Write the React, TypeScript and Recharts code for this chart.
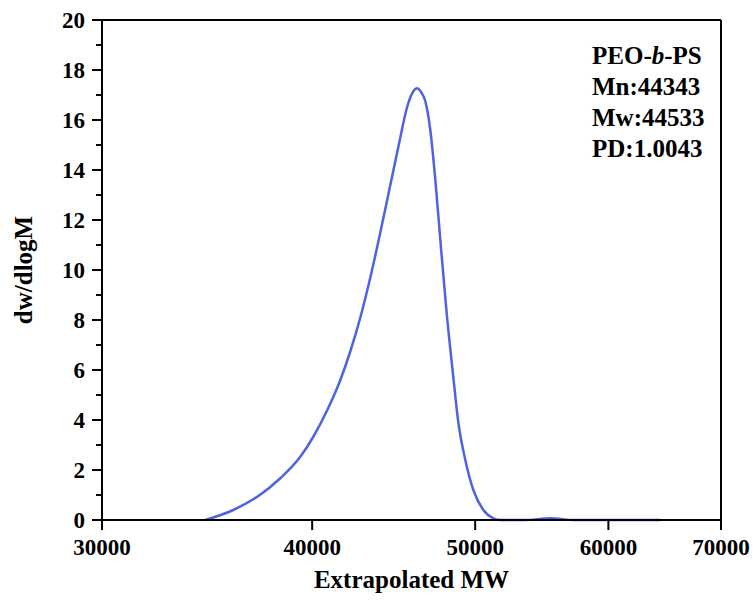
import React from 'react';
import { LineChart, Line, XAxis, YAxis, ReferenceLine, Customized } from 'recharts';

const mwValues = [34557, 35907, 37106, 38293, 39356, 40063, 40838, 41572, 42145, 42726, 43314, 43911, 44516, 45130, 45502, 45815, 46173, 46447, 46701, 47021, 47346, 47670, 48063, 48527, 48860, 49330, 49873, 50561, 51258, 51750, 53500, 55400, 57300, 64400];
const dwValues = [0, 0.4, 0.93, 1.67, 2.53, 3.33, 4.4, 5.6, 6.75, 8.1, 9.7, 11.5, 13.4, 15.3, 16.4, 17.0, 17.27, 17.1, 16.75, 15.6, 13.6, 11.2, 8.43, 5.7, 3.9, 2.4, 1.2, 0.4, 0.07, 0, 0, 0.07, 0, 0];
const xTicks = [30000, 40000, 50000, 60000, 70000];
const yTicks = [0, 1, 2, 3, 4, 5, 6, 7, 8, 9, 10, 11, 12, 13, 14, 15, 16, 17, 18, 19, 20];
const infoLines = ['Mn:44343', 'Mw:44533', 'PD:1.0043'];

const data = mwValues.map((m, i) => ({ mw: m, dw: dwValues[i] }));

const FONT = '"Liberation Serif", "Times New Roman", serif';

const YTick = (props: any) => {
  const { x, y, payload } = props;
  const v = payload.value;
  const major = v % 2 === 0;
  return (
    <g>
      <line x1={x - (major ? 10 : 6)} x2={x} y1={y} y2={y} stroke="#000" strokeWidth={2} />
      {major && (
        <text x={x - 17} y={y} dy="0.35em" textAnchor="end" fontFamily={FONT} fontWeight="bold" fontSize={23} fill="#000">
          {v}
        </text>
      )}
    </g>
  );
};

const XTick = (props: any) => {
  const { x, y, payload } = props;
  return (
    <g>
      <line x1={x} x2={x} y1={y} y2={y + 10} stroke="#000" strokeWidth={2} />
      <text x={x} y={y + 35} textAnchor="middle" fontFamily={FONT} fontWeight="bold" fontSize={23} fill="#000">
        {payload.value}
      </text>
    </g>
  );
};

const Info = () => (
  <g fontFamily={FONT} fontWeight="bold" fontSize={25} fill="#000">
    <text x={592} y={64}>
      PEO-<tspan fontStyle="italic">b</tspan>-PS
    </text>
    {infoLines.map((t, i) => (
      <text key={t} x={592} y={95 + i * 31}>
        {t}
      </text>
    ))}
  </g>
);

export default function App() {
  return (
    <div style={{ position: 'absolute', left: 0, top: 0 }}>
      <LineChart width={753} height={603} data={data} margin={{ top: 20, right: 32, left: 42, bottom: 23 }}>
        <XAxis
          dataKey="mw"
          type="number"
          scale="log"
          domain={[30000, 70000]}
          ticks={xTicks}
          interval={0}
          allowDataOverflow
          tickSize={0}
          tickMargin={0}
          tick={<XTick />}
          axisLine={{ stroke: '#000', strokeWidth: 2 }}
          height={60}
          label={{ value: 'Extrapolated MW', position: 'insideBottom', offset: -8, fontFamily: FONT, fontWeight: 'bold', fontSize: 25, fill: '#000' }}
        />
        <YAxis
          type="number"
          domain={[0, 20]}
          ticks={yTicks}
          interval={0}
          tickSize={0}
          tickMargin={0}
          tick={<YTick />}
          axisLine={{ stroke: '#000', strokeWidth: 2 }}
          width={60}
          label={{ value: 'dw/dlogM', angle: -90, position: 'insideLeft', offset: -19, style: { textAnchor: 'middle' }, fontFamily: FONT, fontWeight: 'bold', fontSize: 25, fill: '#000' }}
        />
        <ReferenceLine y={20} stroke="#000" strokeWidth={2} />
        <ReferenceLine x={70000} stroke="#000" strokeWidth={2} />
        <Line type="monotone" dataKey="dw" stroke="#4F62E6" strokeWidth={2.5} dot={false} isAnimationActive={false} />
        <Customized component={Info} />
      </LineChart>
    </div>
  );
}
